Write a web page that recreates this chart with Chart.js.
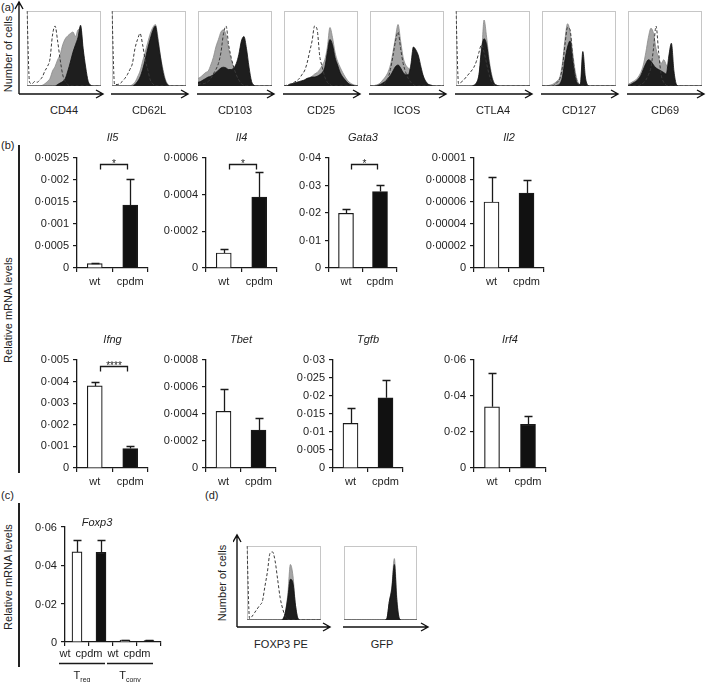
<!DOCTYPE html>
<html>
<head>
<meta charset="utf-8">
<script src="https://cdn.jsdelivr.net/npm/chart.js@4.4.1/dist/chart.umd.min.js"></script>
<style>
  body { margin: 0; background: #fff; width: 709px; height: 682px; position: relative; overflow: hidden;
         font-family: 'Liberation Sans', Arial, sans-serif; color: #222; }
  canvas { position: absolute; }
  .t { position: absolute; font-size: 11px; line-height: 13px; white-space: nowrap; }
  .c { transform: translateX(-50%); }
  .r { transform: translate(-100%, -50%); }
  .v { position: absolute; font-size: 11px; line-height: 13px; white-space: nowrap;
       transform: translate(-50%, -50%) rotate(-90deg); }
  .rule { position: absolute; width: 2px; background: #222; }
</style>
</head>
<body>
<div class="t" style="left:1px;top:1px">(a)</div>
<div class="v" style="left:8px;top:54px">Number of cells</div>
<div class="t" style="left:1px;top:139px">(b)</div>
<div class="v" style="left:8px;top:310px">Relative mRNA levels</div>
<div class="rule" style="left:18px;top:145px;height:328px"></div>
<div class="t" style="left:1px;top:489px">(c)</div>
<div class="v" style="left:8px;top:577px">Relative mRNA levels</div>
<div class="rule" style="left:18px;top:503px;height:164px"></div>
<div class="t" style="left:205px;top:489px">(d)</div>
<div class="v" style="left:222px;top:583px">Number of cells</div>
<div class="t c" style="left:281px;top:638px">FOXP3 PE</div>
<div class="t c" style="left:382px;top:638px">GFP</div>

<script>
// ---------- data: flow histograms (30 bins, % of max) ----------
const markers = ['CD44', 'CD62L', 'CD103', 'CD25', 'ICOS', 'CTLA4', 'CD127', 'CD69'];

const ctrlCD44  = [100,5,3,6,5,8,12,20,26,36,68,80,60,35,15,6,2,0,0,0,0,0,0,0,0,0,0,0,0,0];
const grayCD44  = [0,0,0,0,0,0,1,3,6,10,20,26,35,42,55,63,67,70,72,66,75,76,45,15,4,1,0,0,0,0];
const blackCD44 = [0,0,0,0,0,0,0,0,0,0,0,0,2,4,6,10,20,32,45,55,65,81,50,25,6,1,0,0,0,0];

const ctrlCD62L  = [100,2,2,3,6,10,15,22,30,50,62,70,55,35,22,8,3,0,0,0,0,0,0,0,0,0,0,0,0,0];
const grayCD62L  = [0,0,0,0,0,0,0,0,2,5,12,20,33,45,58,70,78,82,65,40,22,8,2,0,0,0,0,0,0,0];
const blackCD62L = [0,0,0,0,0,0,0,0,0,2,6,12,22,35,50,63,74,80,60,38,18,6,1,0,0,0,0,0,0,0];

const ctrlCD103  = [2,3,3,4,6,10,16,22,30,45,70,80,55,38,25,15,8,3,1,0,0,0,0,0,0,0,0,0,0,0];
const grayCD103  = [10,12,15,18,20,28,38,52,62,72,75,68,50,35,25,18,14,12,10,6,3,1,0,0,0,0,0,0,0,0];
const blackCD103 = [5,6,8,10,12,13,15,18,21,24,25,24,22,22,24,30,42,60,66,50,25,6,1,0,0,0,0,0,0,0];

const ctrlCD25  = [0,1,2,3,5,7,10,15,20,30,45,60,80,75,40,25,12,5,2,0,0,0,0,0,0,0,0,0,0,0];
const grayCD25  = [0,0,0,1,3,4,5,6,8,10,11,13,16,18,22,28,35,52,78,65,45,33,25,18,12,7,4,2,1,0];
const blackCD25 = [0,0,2,3,4,5,6,7,8,10,11,12,12,13,15,18,25,45,62,55,38,28,18,12,8,4,2,1,0,0];

const ctrlICOS  = [0,0,0,0,0,0,5,10,22,40,60,72,50,30,18,10,5,2,0,0,0,0,0,0,0,0,0,0,0,0];
const grayICOS  = [0,0,1,2,4,8,12,18,28,45,65,82,60,38,28,24,22,30,32,28,20,12,6,2,1,0,0,0,0,0];
const blackICOS = [0,0,0,1,2,4,6,10,14,20,26,28,24,18,15,15,28,52,48,40,25,12,5,2,1,0,0,0,0,0];

const ctrlCTLA4  = [100,3,5,8,12,16,20,25,33,45,55,45,30,15,5,1,0,0,0,0,0,0,0,0,0,0,0,0,0,0];
const grayCTLA4  = [0,0,0,0,0,0,0,1,4,15,40,88,65,35,15,4,1,0,0,0,0,0,0,0,0,0,0,0,0,0];
const blackCTLA4 = [0,0,0,0,0,0,0,1,4,15,50,63,55,30,12,3,1,0,0,0,0,0,0,0,0,0,0,0,0,0];

const ctrlCD127  = [0,0,0,0,0,2,5,10,25,55,78,75,40,15,4,1,0,0,0,0,0,0,0,0,0,0,0,0,0,0];
const grayCD127  = [0,0,0,1,2,4,7,12,30,62,83,72,45,20,6,2,3,1,0,0,0,0,0,0,0,0,0,0,0,0];
const blackCD127 = [0,0,0,0,0,0,1,3,12,35,52,60,35,12,3,2,46,12,1,0,0,0,0,0,0,0,0,0,0,0];

const ctrlCD69  = [0,0,0,0,0,2,4,8,15,25,50,80,45,15,5,1,0,0,0,0,0,0,0,0,0,0,0,0,0,0];
const grayCD69  = [2,4,6,8,12,18,28,45,65,77,70,50,38,30,35,28,22,12,4,1,0,0,0,0,0,0,0,0,0,0];
const blackCD69 = [1,2,4,6,9,14,22,30,35,33,28,24,22,20,18,16,40,57,20,2,0,0,0,0,0,0,0,0,0,0];

const ctrlFOXP3  = [100,2,5,10,15,20,25,45,65,90,92,80,55,30,15,5,1,0,0,0,0,0,0,0,0,0,0,0,0,0];
const grayFOXP3  = [0,0,0,0,0,0,0,0,0,0,0,0,0,0,1,10,35,75,60,20,2,0,0,0,0,0,0,0,0,0];
const blackFOXP3 = [0,0,0,0,0,0,0,0,0,0,0,0,0,0,1,10,30,55,50,20,2,0,0,0,0,0,0,0,0,0];

const grayGFP  = [0,0,0,0,0,0,0,0,0,0,0,0,0,0,0,0,0,2,25,45,83,30,2,0,0,0,0,0,0,0];
const blackGFP = [0,0,0,0,0,0,0,0,0,0,0,0,0,0,0,0,0,2,25,42,75,25,2,0,0,0,0,0,0,0];

// ---------- data: qPCR bars ----------
const groups   = ['wt', 'cpdm'];
const genes    = ['Il5', 'Il4', 'Gata3', 'Il2', 'Ifng', 'Tbet', 'Tgfb', 'Irf4'];
const wtMean   = [0.0001, 0.000082, 0.0199, 0.00006, 0.0038, 0.00042, 0.0124, 0.034];
const wtErr    = [0.00001, 0.000022, 0.0017, 0.000023, 0.00017, 0.000165, 0.0043, 0.0186];
const cpdmMean = [0.00143, 0.000387, 0.0278, 0.000068, 0.0009, 0.00028, 0.0195, 0.0243];
const cpdmErr  = [0.0006, 0.000137, 0.0024, 0.000012, 0.0001, 0.000087, 0.0049, 0.0045];
const yMax     = [0.0025, 0.0006, 0.04, 0.0001, 0.005, 0.0008, 0.03, 0.06];
const yStep    = [0.0005, 0.0002, 0.01, 0.00002, 0.001, 0.0002, 0.005, 0.02];
const signif   = ['*', '*', '*', '', '****', '', '', ''];

const foxCats  = ['wt', 'cpdm', 'wt', 'cpdm'];
const foxMean  = [0.047, 0.0468, 0.001, 0.0008];
const foxErr   = [0.006, 0.0062, 0.0002, 0.0002];
const foxTicks = [0, 0.02, 0.04, 0.06];
const foxCells = [['T', 'reg'], ['T', 'conv']];

// ---------- helpers ----------
Chart.defaults.font.family = "'Liberation Sans', Arial, sans-serif";
Chart.defaults.font.size = 11;
Chart.defaults.color = '#222';
Chart.defaults.plugins.legend.display = false;
Chart.defaults.plugins.tooltip.enabled = false;

const FONT = "11px 'Liberation Sans', Arial, sans-serif";

function canvasAt(x, y, w, h) {
  const c = document.createElement('canvas');
  c.width = w; c.height = h;
  c.style.left = x + 'px'; c.style.top = y + 'px';
  document.body.appendChild(c);
  return c;
}

function label(text, cx, cy, cls) {
  const d = document.createElement('div');
  d.className = 't ' + (cls || 'c');
  d.textContent = text;
  d.style.left = cx + 'px';
  d.style.top = (cls === 'r' ? cy : cy - 6) + 'px';
  document.body.appendChild(d);
}

function arrowH(ctx, x0, x1, y) {
  ctx.beginPath();
  ctx.moveTo(x0, y); ctx.lineTo(x1, y);
  ctx.moveTo(x1 - 7, y - 4); ctx.lineTo(x1, y); ctx.lineTo(x1 - 7, y + 4);
  ctx.stroke();
}
function arrowV(ctx, x, y0, y1) {
  ctx.beginPath();
  ctx.moveTo(x, y0); ctx.lineTo(x, y1);
  ctx.moveTo(x - 4, y1 + 7); ctx.lineTo(x, y1); ctx.lineTo(x + 4, y1 + 7);
  ctx.stroke();
}

const histFrame = {
  id: 'histFrame',
  beforeDatasetsDraw(chart) {
    const { ctx, chartArea: a } = chart;
    ctx.save();
    ctx.strokeStyle = '#c6c6c6';
    ctx.lineWidth = 1;
    ctx.strokeRect(a.left + 0.5, a.top + 0.5, a.width - 1, a.height - 1);
    ctx.restore();
  },
  afterDraw(chart, args, o) {
    const { ctx, chartArea: a } = chart;
    ctx.save();
    ctx.strokeStyle = '#111';
    ctx.lineWidth = 1.4;
    const y = a.bottom + o.gap;
    const x0 = o.vertical ? a.left - o.side : a.left - 1;
    arrowH(ctx, x0, a.right + o.ext, y);
    if (o.vertical) arrowV(ctx, x0, y, a.top - o.side - 1);
    ctx.restore();
  }
};

function histogram(x, y, w, h, ctrl, black, gray, arrow) {
  const pad = 14;
  const cv = canvasAt(x - pad, y - pad, w + 2 * pad, h + 2 * pad);
  const datasets = [];
  if (ctrl) datasets.push({ data: ctrl, borderColor: '#3a3a3a', borderDash: [3, 2], borderWidth: 1, fill: false });
  datasets.push({ data: black, borderColor: '#111', backgroundColor: '#1e1e1e', borderWidth: 0.8, fill: 'origin' });
  datasets.push({ data: gray, borderColor: '#8a8a8a', backgroundColor: '#a5a5a5', borderWidth: 0.8, fill: 'origin' });
  new Chart(cv, {
    type: 'line',
    data: { labels: black.map((_, i) => i), datasets },
    options: {
      responsive: false, animation: false, devicePixelRatio: 1,
      layout: { padding: pad },
      elements: { point: { radius: 0 }, line: { cubicInterpolationMode: 'monotone' } },
      scales: { x: { display: false }, y: { display: false, min: 0, max: 100 } },
      plugins: { histFrame: arrow }
    },
    plugins: [histFrame]
  });
}

const fmt = v => v === 0 ? '0' : String(parseFloat(v.toFixed(8))).replace('.', '\u00b7');

const barDecor = {
  id: 'barDecor',
  afterDatasetsDraw(chart) {
    const { ctx } = chart;
    const ds = chart.data.datasets[0];
    const ys = chart.scales.y;
    ctx.save();
    ctx.strokeStyle = '#1a1a1a';
    ctx.lineWidth = 1.3;
    chart.getDatasetMeta(0).data.forEach((bar, i) => {
      const top = Math.round(ys.getPixelForValue(ds.data[i] + ds.errors[i])) + 0.5;
      const cx = Math.round(bar.x) + 0.5;
      ctx.beginPath();
      ctx.moveTo(cx, bar.y); ctx.lineTo(cx, top);
      ctx.moveTo(cx - 4, top); ctx.lineTo(cx + 4, top);
      ctx.stroke();
    });
    ctx.restore();
  },
  afterDraw(chart, args, o) {
    const { ctx, chartArea: a } = chart;
    const xs = chart.scales.x;
    ctx.save();
    ctx.fillStyle = '#222';
    ctx.font = "italic " + FONT;
    ctx.textAlign = 'center';
    ctx.textBaseline = 'middle';
    ctx.fillText(o.title, (a.left + a.right) / 2 + (o.titleDx || 0), a.top + (o.titleDy || -20));
    if (o.sig) {
      const x0 = Math.round(xs.getPixelForValue(0)) + 5.5;
      const x1 = Math.round(xs.getPixelForValue(1)) - 2.5;
      const y = a.top + 6.5;
      ctx.strokeStyle = '#1a1a1a';
      ctx.lineWidth = 1.3;
      ctx.beginPath();
      ctx.moveTo(x0, y + 5); ctx.lineTo(x0, y); ctx.lineTo(x1, y); ctx.lineTo(x1, y + 5);
      ctx.stroke();
      ctx.font = "10px 'Liberation Sans', Arial, sans-serif";
      ctx.textBaseline = 'alphabetic';
      ctx.fillText(o.sig, (x0 + x1) / 2, y + 2);
    }
    if (o.cats) {
      ctx.font = FONT;
      ctx.textBaseline = 'middle';
      o.cats.forEach((c, i) => ctx.fillText(c, xs.getPixelForValue(i) - 12, a.bottom + 12));
      ctx.strokeStyle = '#1a1a1a';
      ctx.lineWidth = 1.3;
      o.cells.forEach((cell, g) => {
        const p0 = xs.getPixelForValue(2 * g) - 18;
        const p1 = xs.getPixelForValue(2 * g + 1) + 4;
        ctx.beginPath();
        ctx.moveTo(p0, a.bottom + 21.5); ctx.lineTo(p1, a.bottom + 21.5);
        ctx.stroke();
        ctx.font = FONT;
        const wT = ctx.measureText(cell[0]).width;
        ctx.font = "7px 'Liberation Sans', Arial, sans-serif";
        const wS = ctx.measureText(cell[1]).width;
        const sx = (p0 + p1) / 2 - (wT + wS) / 2;
        ctx.textAlign = 'left';
        ctx.font = FONT;
        ctx.fillText(cell[0], sx, a.bottom + 34);
        ctx.font = "7px 'Liberation Sans', Arial, sans-serif";
        ctx.fillText(cell[1], sx + wT, a.bottom + 38);
        ctx.textAlign = 'center';
      });
    }
    ctx.restore();
  }
};

function barPanel(left, top, right, bottom, labels, values, errors, colors, max, step, deco, opt) {
  const L = opt.yWidth || 72, T = 32, R = 8, B = opt.bottomSpace || 26;
  const cv = canvasAt(left - L, top - T, right - left + L + R, bottom - top + T + B);
  const chart = new Chart(cv, {
    type: 'bar',
    data: {
      labels,
      datasets: [{
        data: values, errors, backgroundColor: colors, borderColor: '#1a1a1a',
        borderWidth: 1.2, borderSkipped: 'start', barThickness: opt.barW
      }]
    },
    options: {
      responsive: false, animation: false, devicePixelRatio: 1,
      layout: { padding: { top: T, right: R, left: 0, bottom: 0 } },
      scales: {
        x: {
          grid: { drawOnChartArea: false, tickLength: 4, color: '#1a1a1a', lineWidth: 1.2, offset: true },
          border: { color: '#1a1a1a', width: 1.3 },
          ticks: { display: !opt.customTicks, padding: 3, maxRotation: 0, autoSkip: false, color: '#222' },
          afterFit: s => { s.height = B; }
        },
        y: {
          min: 0, max,
          grid: { drawOnChartArea: false, tickLength: 4, color: '#1a1a1a', lineWidth: 1.2 },
          border: { color: '#1a1a1a', width: 1.3 },
          ticks: { display: !opt.yTicks, stepSize: step, padding: 4, color: '#222', autoSkip: false, callback: fmt },
          afterBuildTicks: s => { if (opt.yTicks) s.ticks = opt.yTicks.map(v => ({ value: v })); },
          afterFit: s => { s.width = L; }
        }
      },
      plugins: { barDecor: deco }
    },
    plugins: [barDecor]
  });
  // Foxp3 panel: y tick labels as page text placed from the chart's own scale
  if (opt.yTicks) {
    const ys = chart.scales.y;
    opt.yTicks.forEach(v => label(fmt(v), left - 8, top - T + ys.getPixelForValue(v), 'r'));
  }
  return chart;
}

// ---------- panel (a) ----------
const boxLeftA = [27, 112, 198, 284, 370, 456, 542, 628];
const histA = [
  [ctrlCD44, blackCD44, grayCD44], [ctrlCD62L, blackCD62L, grayCD62L],
  [ctrlCD103, blackCD103, grayCD103], [ctrlCD25, blackCD25, grayCD25],
  [ctrlICOS, blackICOS, grayICOS], [ctrlCTLA4, blackCTLA4, grayCTLA4],
  [ctrlCD127, blackCD127, grayCD127], [ctrlCD69, blackCD69, grayCD69]
];
markers.forEach((m, k) => {
  const [c, b, g] = histA[k];
  histogram(boxLeftA[k], 11, 74, 75, c, b, g, { gap: 8, side: 8, ext: 2, vertical: k === 0 });
  label(m, boxLeftA[k] + 37, 110);
});

// ---------- panel (d) ----------
histogram(247, 546, 74, 74, ctrlFOXP3, blackFOXP3, grayFOXP3, { gap: 7, side: 10, ext: 9, vertical: true });
histogram(344, 546, 73, 74, null, blackGFP, grayGFP, { gap: 7, side: 10, ext: 11, vertical: false });

// ---------- panel (b) ----------
const plotBoxes = [
  [77, 158, 148, 268], [206, 158, 277, 268], [329, 158, 397, 268], [474, 158, 544, 268],
  [77, 360, 148, 468], [206, 360, 276, 468], [333, 360, 403, 468], [474, 360, 546, 468]
];
genes.forEach((g, k) => {
  const [l, t, r, b] = plotBoxes[k];
  barPanel(l, t, r, b, groups, [wtMean[k], cpdmMean[k]], [wtErr[k], cpdmErr[k]],
    ['#ffffff', '#111111'], yMax[k], yStep[k], { title: g, sig: signif[k] }, { barW: 15 });
});

// ---------- panel (c) ----------
barPanel(65, 527, 161, 642, foxCats, foxMean, foxErr, ['#ffffff', '#111111', '#e8e8e8', '#111111'],
  0.06, 0.02,
  { title: 'Foxp3', titleDx: -16, titleDy: -4, cats: foxCats, cells: foxCells },
  { barW: 10, customTicks: true, bottomSpace: 40, yWidth: 42, yTicks: foxTicks });
</script>
</body>
</html>
